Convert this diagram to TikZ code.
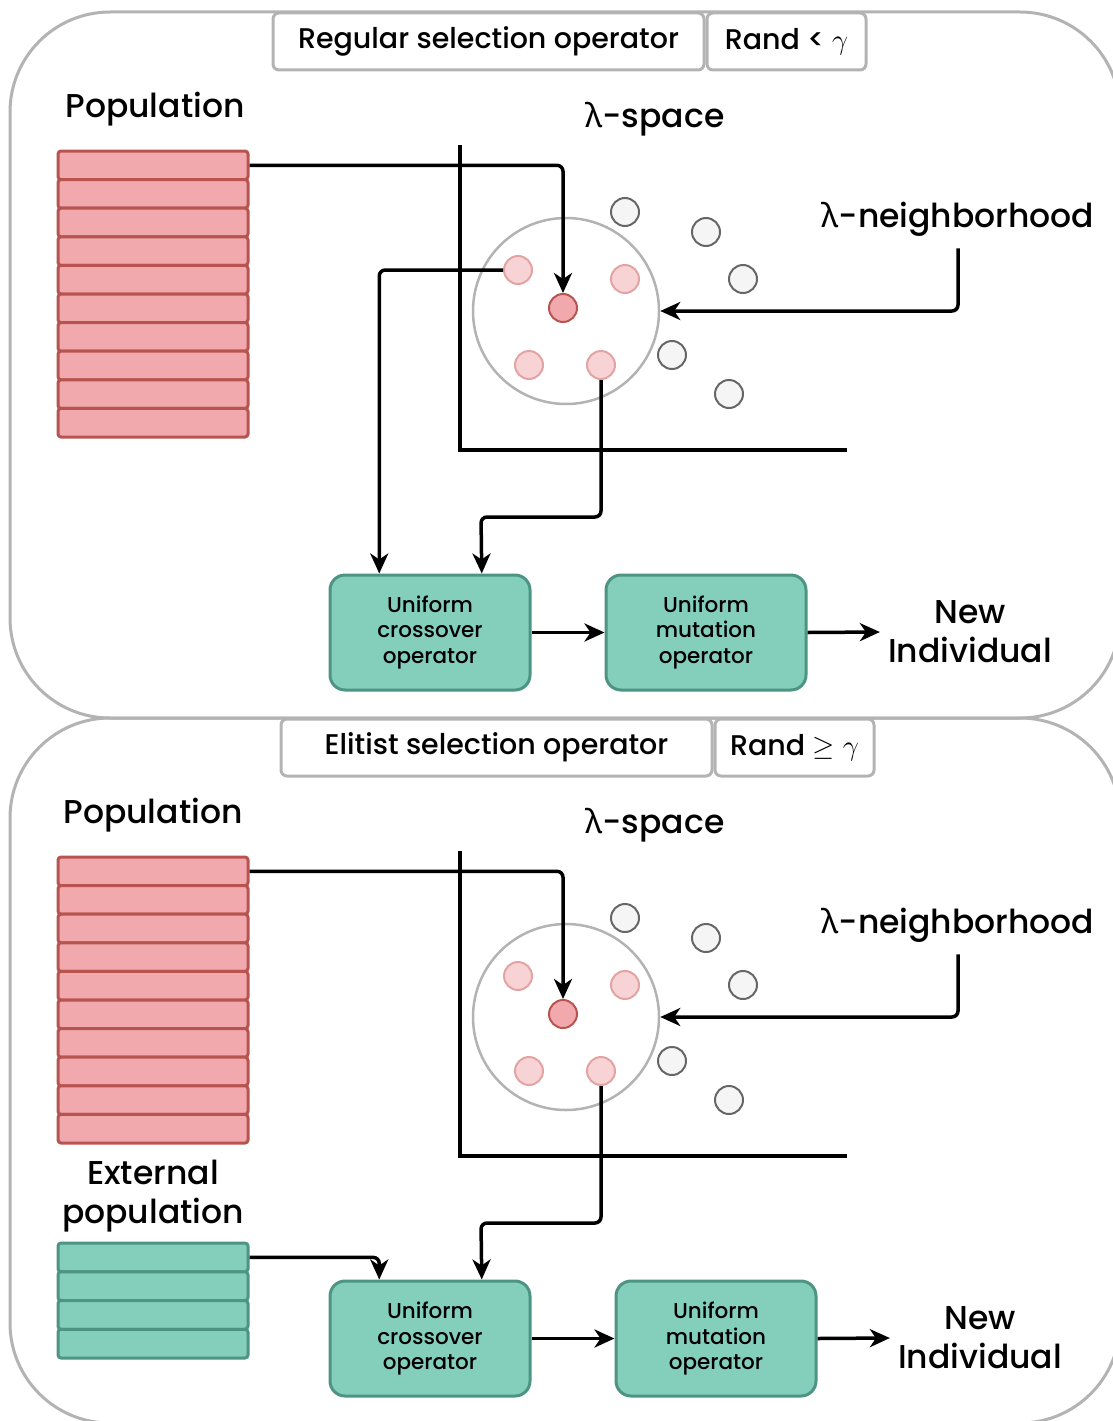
\documentclass[tikz,border=0pt]{standalone}
\usepackage{graphicx}
\usepackage{fontspec}
\setmainfont{Poppins}[UprightFont=*-Medium]
\newfontfamily\greekfont{Noto Sans}
\usetikzlibrary{arrows.meta,calc}

\definecolor{panelgray}{HTML}{B3B3B3}
\definecolor{popfill}{HTML}{F1A9AE}
\definecolor{popline}{HTML}{B85450}
\definecolor{nbfill}{HTML}{F8D3D5}
\definecolor{nbline}{HTML}{E4A3A3}
\definecolor{farfill}{HTML}{F5F5F5}
\definecolor{farline}{HTML}{666666}
\definecolor{opfill}{HTML}{84CEBC}
\definecolor{opline}{HTML}{4D9483}

\newcommand{\lam}{{\greekfont λ}}
\newcommand{\bigmath}[1]{\scalebox{1.15}{$#1$}}

\tikzset{
  panel/.style={draw=panelgray, line width=3pt, rounded corners=100pt},
  header/.style={draw=panelgray, line width=3pt, rounded corners=6pt, minimum height=57pt,
    inner sep=0pt, font=\fontsize{28.5}{33}\selectfont},
  title/.style={inner sep=2pt, font=\fontsize{33}{39}\selectfont, align=center},
  poprow/.style={draw=popline, fill=popfill, line width=3pt, rounded corners=3pt,
    minimum width=190pt, minimum height=28.6pt, inner sep=0pt},
  extrow/.style={draw=opline, fill=opfill, line width=3pt, rounded corners=3pt,
    minimum width=190pt, minimum height=28.75pt, inner sep=0pt},
  axis/.style={draw=black, line width=3.5pt},
  hood/.style={circle, draw=panelgray, line width=2.5pt, minimum size=186pt, inner sep=0pt},
  best/.style={circle, draw=popline, fill=popfill, line width=2pt, minimum size=28pt, inner sep=0pt},
  near/.style={circle, draw=nbline, fill=nbfill, line width=2pt, minimum size=28pt, inner sep=0pt},
  far/.style={circle, draw=farline, fill=farfill, line width=2pt, minimum size=28pt, inner sep=0pt},
  opbox/.style={draw=opline, fill=opfill, line width=3pt, rounded corners=15pt,
    minimum width=200pt, minimum height=115pt, inner sep=0pt, align=center,
    font=\fontsize{21.5}{25.5}\selectfont},
  arr/.style={draw=black, line width=3.5pt, rounded corners=6pt,
    -{Stealth[length=20pt,width=18pt,inset=6pt]}},
}

\begin{document}
\begin{tikzpicture}[x=1pt,y=-1pt]
\useasboundingbox (0,0) rectangle (1113,1421);
\clip (0,0) rectangle (1113,1421);

% ---------------- regular selection panel ----------------
\draw[panel] (10,12) rectangle (1120,718);
\node[header, minimum width=431pt] (hA) at (488.5,41.5) {Regular selection operator};
\node[header, minimum width=159pt] (rA) at (786.5,41.5) {Rand < \bigmath{\gamma}};

\node[title] (popA) at (155,109) {Population};
\foreach \i in {0,...,9}
  \node[poprow] (pa\i) at (153,{151+28.6*(\i+0.5)}) {};

\node[title] (spA) at (655,119) {\lam-space};
\coordinate (axTopA) at (460,145);
\coordinate (axOrgA) at (460,450);
\coordinate (axEndA) at (847,450);
\draw[axis] (axTopA) -- (axOrgA) -- (axEndA);

\node[hood] (circA) at (566,311) {};
\node[far] (fa1) at (625,212) {};
\node[far] (fa2) at (706,232) {};
\node[far] (fa3) at (743,279) {};
\node[far] (fa4) at (672,355) {};
\node[far] (fa5) at (729,394) {};
\node[near] (na1) at (518,270) {};
\node[near] (na2) at (625,279) {};
\node[near] (na3) at (529,365) {};
\node[near] (na4) at (601,365) {};
\node[best] (ba) at (563,308) {};

\node[title] (nbA) at (958,219) {\lam-neighborhood};

\node[opbox] (crossA) at (430,632.5) {Uniform\\crossover\\operator};
\node[opbox] (mutA) at (706,632.5) {Uniform\\mutation\\operator};
\node[title] (newA) at (970,632) {New\\Individual};

\draw[arr] (pa0.east) -| (ba.north);
\draw[arr] ([yshift=-10pt]nbA.south) |- (circA.east);
\draw[arr] (na1.west) -| ($(crossA.north west)!0.25!(crossA.north east)$);
\coordinate (bendA) at (481,517);
\draw[arr] (na4.south) |- (bendA) -- ($(crossA.north west)!0.755!(crossA.north east)$);
\draw[arr] (crossA.east) -- (mutA.west);
\draw[arr] (mutA.east) -- ([xshift=-6pt]newA.west);

% ---------------- elitist selection panel ----------------
\draw[panel] (10,718) rectangle (1120,1423);
\node[header, minimum width=431pt] (hB) at (496.5,747.5) {Elitist selection operator};
\node[header, minimum width=159pt] (rB) at (794.5,747.5) {Rand \bigmath{\geq\gamma}};

\node[title] (popB) at (153,815) {Population};
\foreach \i in {0,...,9}
  \node[poprow] (pb\i) at (153,{857+28.6*(\i+0.5)}) {};

\node[title] (extB) at (153,1196) {External\\population};
\foreach \i in {0,...,3}
  \node[extrow] (eb\i) at (153,{1243+28.75*(\i+0.5)}) {};

\node[title] (spB) at (655,825) {\lam-space};
\coordinate (axTopB) at (460,851);
\coordinate (axOrgB) at (460,1156);
\coordinate (axEndB) at (847,1156);
\draw[axis] (axTopB) -- (axOrgB) -- (axEndB);

\node[hood] (circB) at (566,1017) {};
\node[far] (fb1) at (625,918) {};
\node[far] (fb2) at (706,938) {};
\node[far] (fb3) at (743,985) {};
\node[far] (fb4) at (672,1061) {};
\node[far] (fb5) at (729,1100) {};
\node[near] (nb1) at (518,976) {};
\node[near] (nb2) at (625,985) {};
\node[near] (nb3) at (529,1071) {};
\node[near] (nb4) at (601,1071) {};
\node[best] (bb) at (563,1014) {};

\node[title] (nbB) at (958,925) {\lam-neighborhood};

\node[opbox] (crossB) at (430,1338.5) {Uniform\\crossover\\operator};
\node[opbox] (mutB) at (716,1338.5) {Uniform\\mutation\\operator};
\node[title] (newB) at (980,1338) {New\\Individual};

\draw[arr] (pb0.east) -| (bb.north);
\draw[arr] ([yshift=-10pt]nbB.south) |- (circB.east);
\draw[arr] (eb0.east) -| ($(crossB.north west)!0.25!(crossB.north east)$);
\coordinate (bendB) at (481,1223);
\draw[arr] (nb4.south) |- (bendB) -- ($(crossB.north west)!0.755!(crossB.north east)$);
\draw[arr] (crossB.east) -- (mutB.west);
\draw[arr] (mutB.east) -- ([xshift=-6pt]newB.west);
\end{tikzpicture}
\end{document}
